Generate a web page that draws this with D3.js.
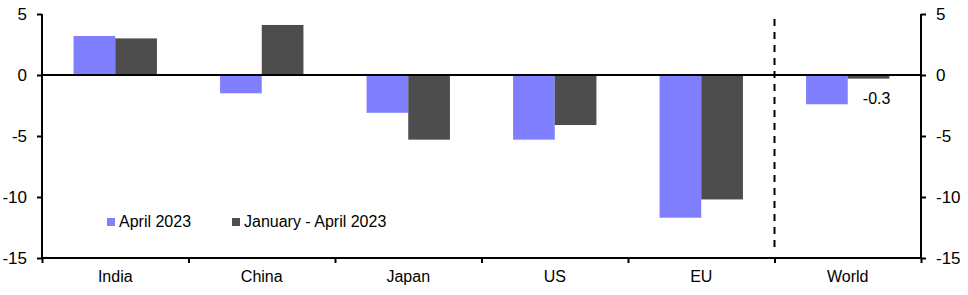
<!DOCTYPE html>
<html lang="en">
<head>
    <meta charset="UTF-8">
    <title>Chart</title>
    <script src="https://cdn.jsdelivr.net/npm/d3@7"></script>
    <style type="text/css">
        body { margin: 0; background: #fff; }
        text { font-family: "Liberation Sans", Arial, sans-serif; }
        .axis text { font-size: 17px; fill: #000; }
        .axis.cats text { font-size: 16px; }
        .axis path, .axis line { stroke: #000; }
    </style>
</head>
<body>
    <script>
        const categories = ["India", "China", "Japan", "US", "EU", "World"];
        const seriesNames = ["April 2023", "January - April 2023"];
        const april = [3.2, -1.5, -3.1, -5.3, -11.7, -2.4];
        const janApr = [3.0, 4.1, -5.3, -4.1, -10.2, -0.3];
        const yTicks = [5, 0, -5, -10, -15];
        const colors = ["#8080ff", "#4d4d4d"];

        const w = 968, h = 295;
        const padL = 42, padR = 921, padT = 14, padB = 258;

        const svg = d3.select("body").append("svg")
            .attr("width", w)
            .attr("height", h);

        const x0 = d3.scaleBand().domain(categories).range([padL, padR]).padding(0);
        const x1 = d3.scaleBand().domain(seriesNames).range([0, x0.bandwidth()])
            .paddingInner(0).paddingOuter(0.757);
        const y = d3.scaleLinear().domain([-15, 5]).range([padB, padT]);
        const xEdge = d3.scaleLinear().domain([0, categories.length]).range([padL, padR]);

        const rows = categories.map((c, i) => ({ cat: c, vals: [april[i], janApr[i]] }));

        // bars
        const groups = svg.selectAll("g.cat")
            .data(rows)
            .enter()
            .append("g")
            .attr("class", "cat")
            .attr("transform", d => "translate(" + x0(d.cat) + ",0)");

        groups.selectAll("rect")
            .data(d => d.vals.map((v, j) => ({ s: seriesNames[j], v: v, j: j })))
            .enter()
            .append("rect")
            .attr("x", d => x1(d.s))
            .attr("y", d => y(Math.max(0, d.v)))
            .attr("width", x1.bandwidth())
            .attr("height", d => Math.abs(y(d.v) - y(0)))
            .attr("fill", d => colors[d.j]);

        // zero line
        svg.append("line")
            .attr("x1", padL).attr("x2", padR)
            .attr("y1", y(0)).attr("y2", y(0))
            .attr("stroke", "#000").attr("stroke-width", 2);

        // dashed separator before World
        svg.append("line")
            .attr("x1", x0("World")).attr("x2", x0("World"))
            .attr("y1", 19).attr("y2", 247)
            .attr("stroke", "#000").attr("stroke-width", 2)
            .attr("stroke-dasharray", "7,6");

        // y axes
        const yAxisL = d3.axisLeft(y).tickValues(yTicks).tickSize(5).tickPadding(10).tickFormat(d3.format("d"));
        const yAxisR = d3.axisRight(y).tickValues(yTicks).tickSize(5).tickPadding(10).tickFormat(d3.format("d"));

        const gl = svg.append("g").attr("class", "axis")
            .attr("transform", "translate(" + padL + ",0)")
            .call(yAxisL);
        const gr = svg.append("g").attr("class", "axis")
            .attr("transform", "translate(" + padR + ",0)")
            .call(yAxisR);
        [gl, gr].forEach(g => {
            g.select(".domain").attr("stroke-width", 2).attr("d", "M0," + padT + "V" + padB);
            g.selectAll(".tick line").attr("stroke-width", 2);
            g.selectAll("text").text(d => d < 0 ? "-" + Math.abs(d) : d);
        });

        // bottom axis: ticks at category edges
        const gb = svg.append("g").attr("class", "axis")
            .attr("transform", "translate(0," + padB + ")")
            .call(d3.axisBottom(xEdge).tickValues(d3.range(categories.length + 1)).tickSize(5).tickFormat(""));
        gb.select(".domain").attr("stroke-width", 2).attr("d", "M" + padL + ",0H" + padR);
        gb.selectAll(".tick line").attr("stroke-width", 2);

        // category labels
        const gc = svg.append("g").attr("class", "axis cats")
            .attr("transform", "translate(0," + padB + ")")
            .call(d3.axisBottom(x0).tickSize(0).tickPadding(13));
        gc.select(".domain").remove();

        // data label for World Jan-Apr
        const wi = categories.indexOf("World");
        svg.append("text")
            .attr("x", x0("World") + x1(seriesNames[1]) + x1.bandwidth() / 2 + 8)
            .attr("y", y(janApr[wi]) + 25)
            .attr("text-anchor", "middle")
            .style("font-size", "16px")
            .text(janApr[wi].toFixed(1));

        // legend
        const legX = [107, 232];
        const legend = svg.selectAll("g.leg")
            .data(seriesNames)
            .enter()
            .append("g")
            .attr("class", "leg")
            .attr("transform", (d, i) => "translate(" + legX[i] + ",218)");
        legend.append("rect")
            .attr("width", 8).attr("height", 8)
            .attr("fill", (d, i) => colors[i]);
        legend.append("text")
            .attr("x", 12).attr("y", 9)
            .style("font-size", "16px")
            .text(d => d);
    </script>
</body>
</html>
